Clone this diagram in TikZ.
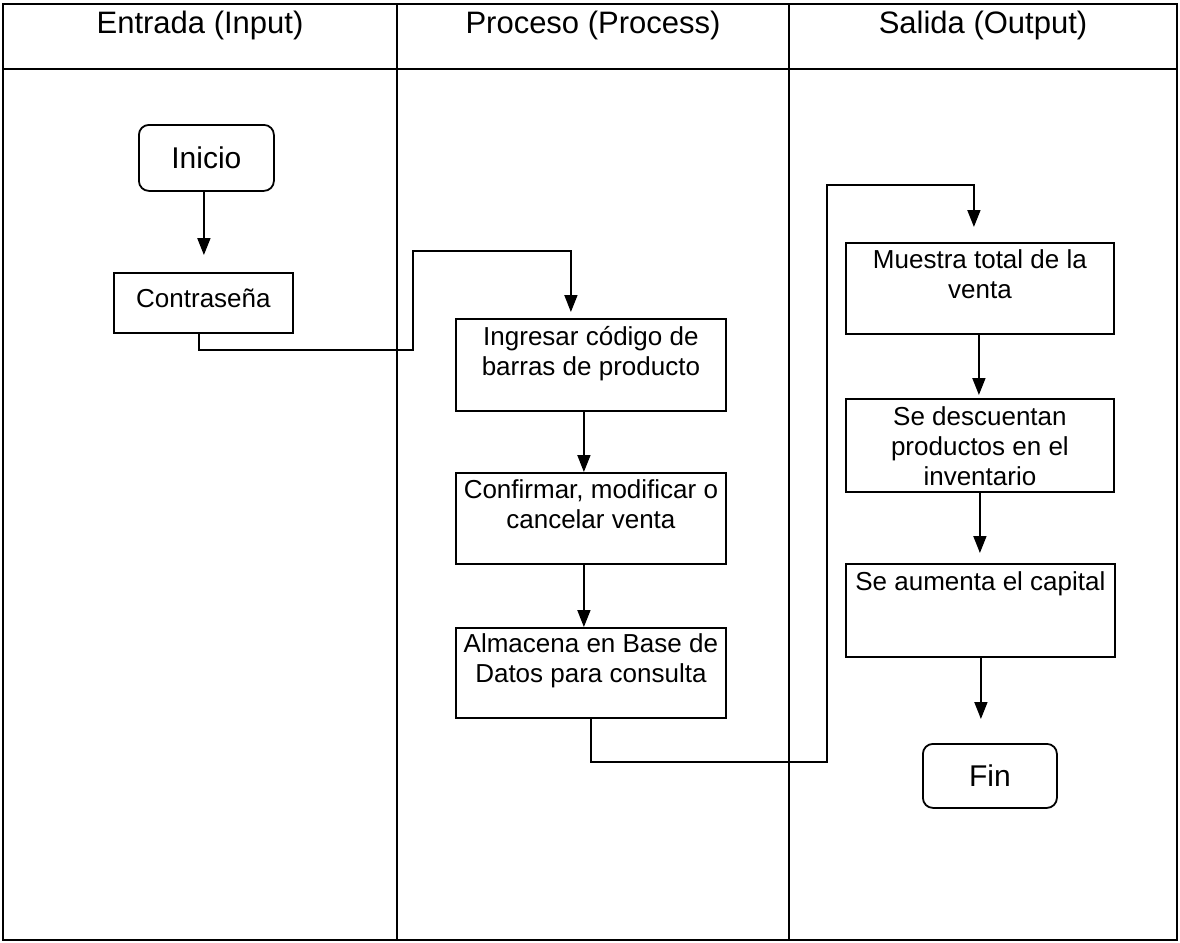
\documentclass[tikz,border=0pt]{standalone}
\usepackage{fontspec}
\setmainfont{Liberation Sans}
\usetikzlibrary{arrows.meta}

% box text: width, height, first-baseline offset, lines
\newcommand{\boxlines}[4]{\parbox[c][#2pt][t]{#1pt}{\centering\rule{0pt}{#3pt}#4\par}}

\begin{document}
\begin{tikzpicture}[x=1pt,y=-1pt,
  lane/.style={line width=2.6pt},
  heading/.style={font=\fontsize{31}{36}\selectfont, anchor=base, inner sep=0pt},
  procbox/.style={draw, line width=1.8pt, inner sep=0pt, anchor=north west,
                  font=\fontsize{26}{30}\selectfont},
  termbox/.style={draw, line width=1.8pt, rounded corners=10pt, inner sep=0pt,
                  anchor=north west, font=\fontsize{30}{34}\selectfont},
  flow/.style={line width=1.8pt, -{Triangle[width=13pt 0,length=17pt 0]}},
]
\useasboundingbox (0,0) rectangle (1180,942);

% swimlane table
\draw[lane] (3,4) rectangle (1177,940);
\draw[lane] (3,69) -- (1177,69);
\draw[lane] (397,4) -- (397,940);
\draw[lane] (789,4) -- (789,940);

\node[heading] (hin)   at (200,34) {Entrada (Input)};
\node[heading] (hproc) at (593,34) {Proceso (Process)};
\node[heading] (hout)  at (983,34) {Salida (Output)};

% steps
\node[termbox, minimum width=135pt, minimum height=66pt] (inicio) at (138,124) {Inicio};
\node[procbox] (contra) at (113,272) {\boxlines{179}{60}{35}{Contraseña}};

\node[procbox] (ingresar)  at (455,318) {\boxlines{270}{92}{27}{Ingresar código de\\barras de producto}};
\node[procbox] (confirmar) at (455,472) {\boxlines{270}{91}{26}{Confirmar, modificar o\\cancelar venta}};
\node[procbox] (almacena)  at (455,627) {\boxlines{270}{90}{25}{Almacena en Base de\\Datos para consulta}};

\node[procbox] (muestra)    at (845,242) {\boxlines{268}{91}{26}{Muestra total de la\\venta}};
\node[procbox] (descuentan) at (845,398) {\boxlines{268}{93}{27}{Se descuentan\\productos en el\\inventario}};
\node[procbox] (aumenta)    at (845,563) {\boxlines{269}{93}{27}{Se aumenta el capital}};
\node[termbox, minimum width=134pt, minimum height=64pt] (fin) at (922,743) {Fin};

% bends of the lane-crossing connectors
\coordinate (bendA) at (413,251);
\coordinate (bendB) at (827,185);

% connectors
\coordinate (s1) at ([xshift=-2.5pt]inicio.south);
\draw[flow, shorten >=17pt] (s1) -- (s1 |- contra.north);

\draw[flow, shorten >=6pt] ([xshift=-4.5pt]contra.south) -- ++(0,16) -| (bendA)
      -| ([xshift=-20pt]ingresar.north);

\coordinate (s2) at ([xshift=-7pt]ingresar.south);
\draw[flow] (s2) -- (s2 |- confirmar.north);

\coordinate (s3) at ([xshift=-7pt]confirmar.south);
\draw[flow] (s3) -- (s3 |- almacena.north);

\draw[flow, shorten >=15pt] (almacena.south) -- ++(0,43) -| (bendB)
      -| ([xshift=-6pt]muestra.north);

\coordinate (s4) at ([xshift=-1pt]muestra.south);
\draw[flow, shorten >=3pt] (s4) -- (s4 |- descuentan.north);

\coordinate (s5) at (descuentan.south);
\draw[flow, shorten >=10pt] (s5) -- (s5 |- aumenta.north);

\coordinate (s6) at ([xshift=0.5pt]aumenta.south);
\draw[flow, shorten >=24pt] (s6) -- (s6 |- fin.north);
\end{tikzpicture}
\end{document}
